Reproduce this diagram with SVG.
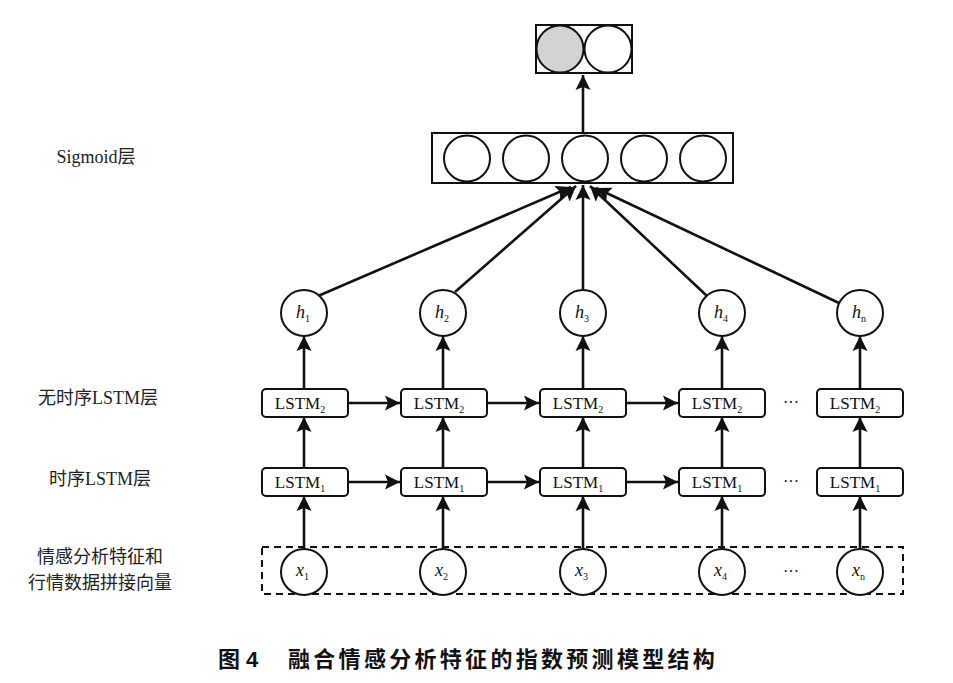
<svg xmlns="http://www.w3.org/2000/svg" width="953" height="683" viewBox="0 0 953 683">
<defs>
<marker id="ah" markerUnits="userSpaceOnUse" markerWidth="16" markerHeight="16" refX="15" refY="8" orient="auto">
<path d="M0,0.5 L15,8 L0,15.5 L3,8 Z" fill="#111"/>
</marker>
</defs>
<style>
.c{fill:#fff;stroke:#111;stroke-width:2}
.box{fill:#fff;stroke:#111;stroke-width:2}
.ar{fill:none;stroke:#111;stroke-width:2.6;marker-end:url(#ah)}
.t{fill:#111;font-size:17px;text-anchor:middle}
.lab{fill:#222;font-size:18px;text-anchor:middle}
.it{font-style:italic;fill:#111;font-size:18px}
.sub{font-size:10px;font-style:normal}
.dots{font-size:16px;fill:#111;text-anchor:middle}
</style>
<rect width="953" height="683" fill="#fff"/>

<g id="output">
<rect x="536" y="25" width="96" height="48" class="box"/>
<circle cx="560" cy="49" r="23.5" fill="#d3d3d3" stroke="#111" stroke-width="2"/>
<circle cx="608" cy="49" r="23.5" class="c"/>
</g>

<g id="sigmoid">
<rect x="432" y="133" width="301" height="50" class="box"/>
<circle cx="467" cy="158.5" r="23" class="c"/>
<circle cx="526" cy="158.5" r="23" class="c"/>
<circle cx="585" cy="158.5" r="23" class="c"/>
<circle cx="644" cy="158.5" r="23" class="c"/>
<circle cx="703" cy="158.5" r="23" class="c"/>
</g>

<g id="connectors">
<line x1="583" y1="133" x2="583" y2="75" class="ar" stroke-width="2.2"/>
<line x1="318" y1="296" x2="571" y2="187" class="ar" stroke-width="2.4"/>
<line x1="455" y1="292" x2="576" y2="186" class="ar" stroke-width="1.8"/>
<line x1="583" y1="290" x2="583" y2="185" class="ar" stroke-width="1.5"/>
<line x1="707" y1="296" x2="590" y2="186" class="ar" stroke-width="2.4"/>
<line x1="839" y1="303" x2="596" y2="188" class="ar" stroke-width="1.2"/>

<line x1="304" y1="389" x2="304" y2="336" class="ar"/>
<line x1="443" y1="389" x2="443" y2="336" class="ar"/>
<line x1="583" y1="389" x2="583" y2="336" class="ar"/>
<line x1="722" y1="389" x2="722" y2="336" class="ar"/>
<line x1="860" y1="389" x2="860" y2="336" class="ar"/>

<line x1="304" y1="468" x2="304" y2="417" class="ar"/>
<line x1="443" y1="468" x2="443" y2="417" class="ar"/>
<line x1="583" y1="468" x2="583" y2="417" class="ar"/>
<line x1="722" y1="468" x2="722" y2="417" class="ar"/>
<line x1="860" y1="468" x2="860" y2="417" class="ar"/>

<line x1="304" y1="549" x2="304" y2="496" class="ar"/>
<line x1="443" y1="549" x2="443" y2="496" class="ar"/>
<line x1="583" y1="549" x2="583" y2="496" class="ar"/>
<line x1="722" y1="549" x2="722" y2="496" class="ar"/>
<line x1="860" y1="549" x2="860" y2="496" class="ar"/>

<line x1="348" y1="403" x2="400" y2="403" class="ar"/>
<line x1="487" y1="403" x2="539" y2="403" class="ar"/>
<line x1="627" y1="403" x2="678" y2="403" class="ar"/>
<line x1="348" y1="482" x2="400" y2="482" class="ar"/>
<line x1="487" y1="482" x2="539" y2="482" class="ar"/>
<line x1="627" y1="482" x2="678" y2="482" class="ar"/>
</g>

<g id="h-nodes" font-family="'Liberation Serif', 'Times New Roman', serif">
<g id="h1"><circle cx="304" cy="313" r="23" class="c"/><text x="296" y="318" class="it">h<tspan class="sub" dy="4">1</tspan></text></g>
<g id="h2"><circle cx="443" cy="313" r="23" class="c"/><text x="435" y="318" class="it">h<tspan class="sub" dy="4">2</tspan></text></g>
<g id="h3"><circle cx="583" cy="313" r="23" class="c"/><text x="575" y="318" class="it">h<tspan class="sub" dy="4">3</tspan></text></g>
<g id="h4"><circle cx="722" cy="313" r="23" class="c"/><text x="714" y="318" class="it">h<tspan class="sub" dy="4">4</tspan></text></g>
<g id="hn"><circle cx="860" cy="313" r="23" class="c"/><text x="852" y="318" class="it">h<tspan class="sub" dy="4" font-style="italic">n</tspan></text></g>
</g>

<g id="lstm2-row" font-family="'Liberation Serif', 'Times New Roman', serif">
<g id="l2-1"><rect x="262" y="389" width="86" height="28" rx="4" class="box"/><text x="300" y="409" class="t">LSTM<tspan font-size="10" dy="4">2</tspan></text></g>
<g id="l2-2"><rect x="401" y="389" width="86" height="28" rx="4" class="box"/><text x="439" y="409" class="t">LSTM<tspan font-size="10" dy="4">2</tspan></text></g>
<g id="l2-3"><rect x="540" y="389" width="86" height="28" rx="4" class="box"/><text x="578" y="409" class="t">LSTM<tspan font-size="10" dy="4">2</tspan></text></g>
<g id="l2-4"><rect x="679" y="389" width="86" height="28" rx="4" class="box"/><text x="717" y="409" class="t">LSTM<tspan font-size="10" dy="4">2</tspan></text></g>
<g id="l2-n"><rect x="817" y="389" width="86" height="28" rx="4" class="box"/><text x="855" y="409" class="t">LSTM<tspan font-size="10" dy="4">2</tspan></text></g>
<text x="791" y="408" class="dots">···</text>
</g>

<g id="lstm1-row" font-family="'Liberation Serif', 'Times New Roman', serif">
<g id="l1-1"><rect x="262" y="468" width="86" height="28" rx="4" class="box"/><text x="300" y="488" class="t">LSTM<tspan font-size="10" dy="4">1</tspan></text></g>
<g id="l1-2"><rect x="401" y="468" width="86" height="28" rx="4" class="box"/><text x="439" y="488" class="t">LSTM<tspan font-size="10" dy="4">1</tspan></text></g>
<g id="l1-3"><rect x="540" y="468" width="86" height="28" rx="4" class="box"/><text x="578" y="488" class="t">LSTM<tspan font-size="10" dy="4">1</tspan></text></g>
<g id="l1-4"><rect x="679" y="468" width="86" height="28" rx="4" class="box"/><text x="717" y="488" class="t">LSTM<tspan font-size="10" dy="4">1</tspan></text></g>
<g id="l1-n"><rect x="817" y="468" width="86" height="28" rx="4" class="box"/><text x="855" y="488" class="t">LSTM<tspan font-size="10" dy="4">1</tspan></text></g>
<text x="791" y="487" class="dots">···</text>
</g>

<g id="input" font-family="'Liberation Serif', 'Times New Roman', serif">
<rect x="262" y="547" width="641" height="47" fill="none" stroke="#111" stroke-width="2" stroke-dasharray="7,5"/>
<g id="x1"><circle cx="304" cy="572" r="23" class="c"/><text x="296" y="576" class="it" font-size="16">x<tspan class="sub" dy="4">1</tspan></text></g>
<g id="x2"><circle cx="443" cy="572" r="23" class="c"/><text x="435" y="576" class="it" font-size="16">x<tspan class="sub" dy="4">2</tspan></text></g>
<g id="x3"><circle cx="583" cy="572" r="23" class="c"/><text x="575" y="576" class="it" font-size="16">x<tspan class="sub" dy="4">3</tspan></text></g>
<g id="x4"><circle cx="722" cy="572" r="23" class="c"/><text x="714" y="576" class="it" font-size="16">x<tspan class="sub" dy="4">4</tspan></text></g>
<g id="xn"><circle cx="860" cy="572" r="23" class="c"/><text x="852" y="576" class="it" font-size="16">x<tspan class="sub" dy="4" font-style="italic">n</tspan></text></g>
<text x="791" y="577" class="dots">···</text>
</g>

<g id="labels" font-family="'Liberation Serif', 'Noto Sans CJK SC', serif">
<text x="96" y="163" class="lab">Sigmoid层</text>
<text x="98" y="404" class="lab">无时序LSTM层</text>
<text x="100" y="485" class="lab">时序LSTM层</text>
<text x="100" y="563" class="lab" font-size="19">情感分析特征和</text>
<text x="100" y="589" class="lab" font-size="19">行情数据拼接向量</text>
</g>

<g id="caption" font-family="'Liberation Sans', 'Noto Sans CJK SC', sans-serif" font-weight="bold" font-size="22" fill="#111">
<text x="218" y="667">图 4</text>
<text x="288" y="667" letter-spacing="3.3">融合情感分析特征的指数预测模型结构</text>
</g>
</svg>
